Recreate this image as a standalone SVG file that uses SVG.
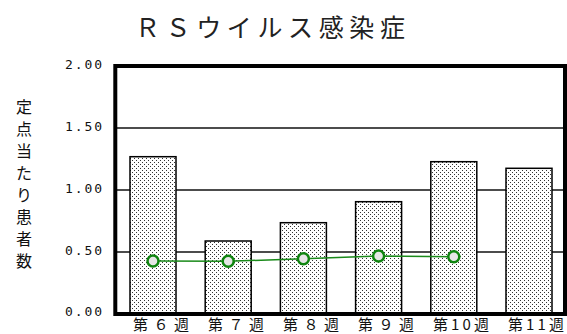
<svg xmlns="http://www.w3.org/2000/svg" width="567" height="334" viewBox="0 0 567 334">
<defs>
<pattern id="dots" width="4" height="4" patternUnits="userSpaceOnUse">
<rect width="4" height="4" fill="#fff"/>
<rect x="0" y="0" width="1" height="1" fill="#333"/>
<rect x="2" y="2" width="1" height="1" fill="#333"/>
</pattern>
</defs>
<style>
.title{font-family:"Noto Sans CJK JP","Noto Sans CJK SC",sans-serif;font-size:25px;fill:#222}
.ytitle{font-family:"Noto Sans CJK JP","Noto Sans CJK SC",sans-serif;font-size:16px;fill:#111;text-anchor:middle}
.tick{font-family:"DejaVu Sans Mono","Liberation Mono",monospace;font-size:13px;fill:#111}
.xl{font-family:"Noto Sans CJK JP","Noto Sans CJK SC",sans-serif;font-size:15px;fill:#111}
.grid{stroke:#111;stroke-width:1.4}
.bar{fill:url(#dots);stroke:#000;stroke-width:1.5}
.frame{fill:none;stroke:#000;stroke-width:4}
.series{fill:none;stroke:#1a8a1a;stroke-width:1.5}
.mk{fill:#e6e6e6;stroke:#0f850f;stroke-width:2.5}
</style>
<rect width="567" height="334" fill="#fff"/>
<g id="title"><text class="title" x="135" y="37" textLength="270" lengthAdjust="spacing">ＲＳウイルス感染症</text></g>
<g id="y-axis-title">
<text class="ytitle" x="24" y="113">定</text>
<text class="ytitle" x="24" y="135">点</text>
<text class="ytitle" x="24" y="157">当</text>
<text class="ytitle" x="24" y="179">た</text>
<text class="ytitle" x="24" y="201">り</text>
<text class="ytitle" x="24" y="223">患</text>
<text class="ytitle" x="24" y="245">者</text>
<text class="ytitle" x="24" y="267">数</text>
</g>
<g id="y-ticks">
<text class="tick" x="65" y="68.5" textLength="37" lengthAdjust="spacing">2.00</text>
<text class="tick" x="65" y="130.5" textLength="37" lengthAdjust="spacing">1.50</text>
<text class="tick" x="65" y="192.5" textLength="37" lengthAdjust="spacing">1.00</text>
<text class="tick" x="65" y="254.5" textLength="37" lengthAdjust="spacing">0.50</text>
<text class="tick" x="65" y="316" textLength="37" lengthAdjust="spacing">0.00</text>
</g>
<g id="grid">
<line class="grid" x1="117" y1="128" x2="563" y2="128"/>
<line class="grid" x1="117" y1="190" x2="563" y2="190"/>
<line class="grid" x1="117" y1="252" x2="563" y2="252"/>
</g>
<g id="bars">
<rect id="bar-w6" class="bar" x="130" y="156.7" width="46" height="157.3"/>
<rect id="bar-w7" class="bar" x="205.2" y="241" width="46" height="73"/>
<rect id="bar-w8" class="bar" x="280.4" y="222.7" width="46" height="91.3"/>
<rect id="bar-w9" class="bar" x="355.6" y="201.7" width="46" height="112.3"/>
<rect id="bar-w10" class="bar" x="430.8" y="161.7" width="46" height="152.3"/>
<rect id="bar-w11" class="bar" x="506" y="168.3" width="46" height="145.7"/>
</g>
<g id="frame"><rect class="frame" x="115.3" y="66" width="449.7" height="248"/></g>
<g id="connectors">
<polyline class="series" points="153,261 228.2,261.3 303.4,258.7 378.6,256 453.8,256.7"/>
</g>
<g id="markers">
<circle id="pt-w6" class="mk" cx="153" cy="261" r="5.5"/>
<circle id="pt-w7" class="mk" cx="228.2" cy="261.3" r="5.5"/>
<circle id="pt-w8" class="mk" cx="303.4" cy="258.7" r="5.5"/>
<circle id="pt-w9" class="mk" cx="378.6" cy="256" r="5.5"/>
<circle id="pt-w10" class="mk" cx="453.8" cy="256.7" r="5.5"/>
</g>
<g id="x-labels">
<text class="xl" x="133" y="330" textLength="56" lengthAdjust="spacing">第６週</text>
<text class="xl" x="208" y="330" textLength="56" lengthAdjust="spacing">第７週</text>
<text class="xl" x="283" y="330" textLength="56" lengthAdjust="spacing">第８週</text>
<text class="xl" x="358" y="330" textLength="56" lengthAdjust="spacing">第９週</text>
<text class="xl" x="433" y="330" textLength="56" lengthAdjust="spacing">第10週</text>
<text class="xl" x="508" y="330" textLength="56" lengthAdjust="spacing">第11週</text>
</g>
</svg>
